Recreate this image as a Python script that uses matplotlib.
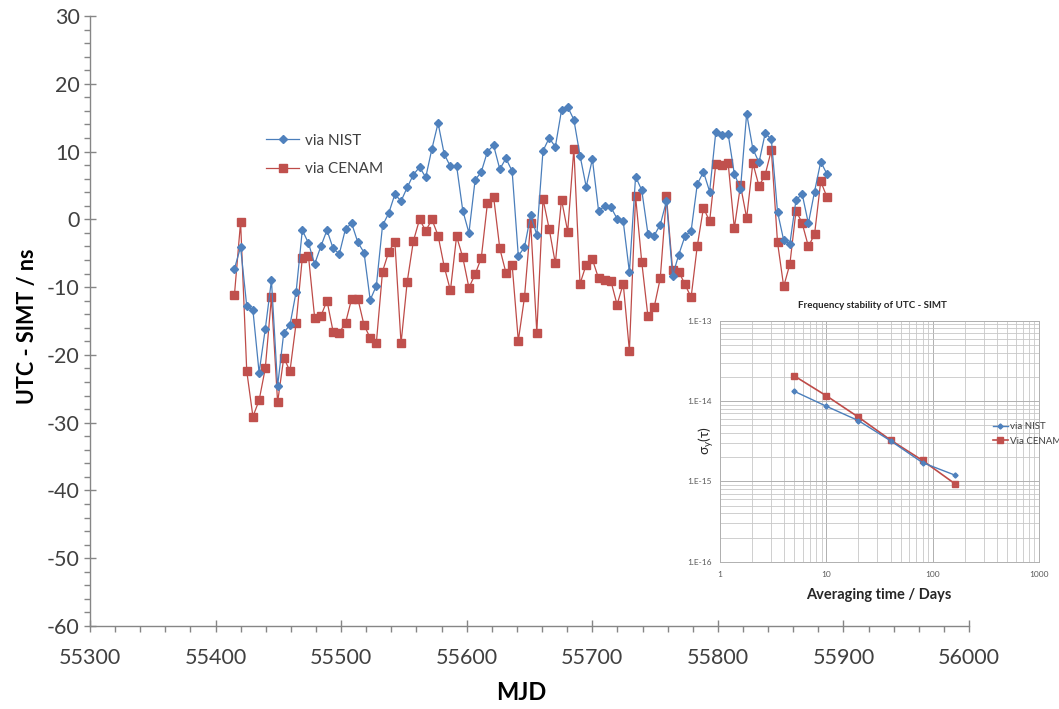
import numpy as np
import matplotlib
matplotlib.use("Agg")
import matplotlib.pyplot as plt
from matplotlib.ticker import MultipleLocator, LogLocator, FuncFormatter, NullFormatter

# UTC - SIMT time differences (ns), two transfer paths
nist = [-7.3, -4.1, -12.8, -13.4, -22.6, -16.2, -9.0, -24.6, -16.7, -15.6, -10.7, -1.6,
        -3.5, -6.6, -4.0, -1.6, -4.3, -5.1, -1.4, -0.6, -3.4, -4.9, -11.9, -9.8,
        -0.9, 0.9, 3.7, 2.7, 4.7, 6.6, 7.7, 6.2, 10.4, 14.2, 9.6, 7.8, 7.9, 1.3,
        -2.0, 5.8, 7.0, 10.0, 10.9, 7.4, 9.0, 7.1, -5.4, -4.1, 0.6,
        -2.3, 10.1, 12.0, 10.7, 16.1, 16.6, 14.7, 9.4, 4.8, 8.9, 1.3, 1.9, 1.8,
        0.1, -0.3, -7.8, 6.3, 4.3, -2.1, -2.4, -0.8, 2.7, -8.3, -5.2, -2.5,
        -1.7, 5.2, 7.0, 4.1, 12.9, 12.5, 12.6, 6.7, 4.5, 15.6, 10.4, 8.4, 12.7,
        11.8, 1.1, -3.1, -3.6, 2.9, 3.7, -0.6, 4.1, 8.5, 6.7]
cenam = [-11.2, -0.4, -22.4, -29.1, -26.7, -22.0, -11.5, -27.0, -20.4, -22.4, -15.3, -5.7,
         -5.4, -14.5, -14.3, -12.0, -16.6, -16.7, -15.3, -11.7, -11.7, -15.6, -17.5, -18.2,
         -7.7, -4.8, -3.3, -18.3, -9.2, -3.2, 0.0, -1.7, 0.0, -2.4, -7.0, -10.5, -2.5,
         -5.6, -10.1, -8.1, -5.7, 2.4, 3.3, -4.3, -7.9, -6.7, -17.9, -11.5, -0.5,
         -16.7, 3.0, -1.4, -6.5, 2.9, -1.8, 10.4, -9.5, -6.7, -5.9, -8.7, -9.0, -9.1,
         -12.6, -9.5, -19.4, 3.4, -6.3, -14.3, -13.0, -8.7, 3.4, -7.5, -7.7, -9.6,
         -11.5, -3.9, 1.7, -0.3, 8.2, 8.0, 8.3, -1.3, 5.0, 0.2, 8.3, 4.9, 6.6,
         10.2, -3.4, -9.9, -6.6, 1.3, -0.6, -4.0, -2.2, 5.6, 3.3]
mjd_start = 55415.0
mjd_step = 4.915
mjd = mjd_start + mjd_step * np.arange(len(nist))

# Allan deviation of the two links
tau_days = [5, 10, 20, 40, 80, 160]
adev_nist = [1.32e-14, 8.6e-15, 5.7e-15, 3.2e-15, 1.71e-15, 1.2e-15]
adev_cenam = [2.05e-14, 1.16e-14, 6.3e-15, 3.27e-15, 1.82e-15, 9.4e-16]

BLUE_L, BLUE_M = "#4A7EBB", "#4F81BD"
RED_L, RED_M = "#BE4B48", "#C0504D"
TXT = "#404040"
AXC = "#868686"

plt.rcParams["font.family"] = ["Lato", "DejaVu Sans"]
plt.rcParams["axes.unicode_minus"] = False

W, H = 1059, 709
fig = plt.figure(figsize=(W / 100, H / 100), dpi=100)

def fx(px):
    return px / W

def fy(py):
    return 1 - py / H

ax = fig.add_axes([fx(90), fy(626), fx(969) - fx(90), fy(16) - fy(626)])
ax.plot(mjd, nist, color=BLUE_L, lw=0.9, marker="D", ms=4.2, mfc=BLUE_M, mec=BLUE_M,
        label="via NIST", zorder=3)
ax.plot(mjd, cenam, color=RED_L, lw=0.9, marker="s", ms=5.2, mfc=RED_M, mec=RED_M,
        label="via CENAM", zorder=2)
ax.set_xlim(55300, 56000)
ax.set_ylim(-60, 30)
for s in ("top", "right"):
    ax.spines[s].set_visible(False)
for s in ("left", "bottom"):
    ax.spines[s].set_color(AXC)
    ax.spines[s].set_linewidth(1.0)
ax.xaxis.set_major_locator(MultipleLocator(100))
ax.xaxis.set_minor_locator(MultipleLocator(20))
ax.yaxis.set_major_locator(MultipleLocator(10))
ax.yaxis.set_minor_locator(MultipleLocator(2))
ax.tick_params(which="major", direction="inout", length=9, width=1.0, color=AXC,
               labelsize=15.5, labelcolor=TXT)
ax.tick_params(which="minor", direction="out", length=4.5, width=1.0, color=AXC)
ax.tick_params(axis="x", which="major", pad=11)
ax.tick_params(axis="y", which="major", pad=3)
ax.xaxis.set_major_formatter(FuncFormatter(lambda v, p: f"{int(round(v))}"))

fig.text(fx(28), fy(326), "UTC - SIMT / ns", rotation=90, ha="center", va="center",
         fontsize=15.5, fontweight="bold", color="black")
fig.text(fx(521), fy(692), "MJD", ha="center", va="center",
         fontsize=17, fontweight="bold", color="black")

ax.legend(loc="upper left", bbox_to_anchor=(fx(252), fy(120)), bbox_transform=fig.transFigure,
          frameon=False, fontsize=11, handlelength=2.2, handletextpad=0.4, labelspacing=0.95,
          labelcolor=TXT)

# Inset: frequency stability
ax2 = fig.add_axes([fx(720), fy(561.7), fx(1039.3) - fx(720), fy(320.7) - fy(561.7)])
ax2.set_facecolor("white")
ax2.loglog(tau_days, adev_nist, color=BLUE_L, lw=1.0, marker="D", ms=2.6, mfc=BLUE_M,
           mec=BLUE_M, label="via NIST", zorder=3)
ax2.loglog(tau_days, adev_cenam, color=RED_L, lw=1.2, marker="s", ms=4.0, mfc=RED_M,
           mec=RED_M, label="Via CENAM", zorder=2)
ax2.set_xlim(1, 1000)
ax2.set_ylim(1e-16, 1e-13)
ax2.xaxis.set_major_locator(LogLocator(base=10, numticks=10))
ax2.xaxis.set_minor_locator(LogLocator(base=10, subs=np.arange(2, 10), numticks=20))
ax2.yaxis.set_major_locator(LogLocator(base=10, numticks=10))
ax2.yaxis.set_minor_locator(LogLocator(base=10, subs=np.arange(2, 10), numticks=20))
ax2.xaxis.set_minor_formatter(NullFormatter())
ax2.yaxis.set_minor_formatter(NullFormatter())
ax2.xaxis.set_major_formatter(FuncFormatter(lambda v, p: f"{int(round(v))}"))
ax2.yaxis.set_major_formatter(FuncFormatter(lambda v, p: f"1.E{int(round(np.log10(v))):03d}"))
ax2.grid(which="major", color="#b0b0b0", lw=0.7)
ax2.grid(which="minor", color="#c8c8c8", lw=0.6)
ax2.tick_params(which="both", length=0, labelsize=6, labelcolor="#595959")
ax2.tick_params(axis="x", pad=7)
ax2.tick_params(axis="y", pad=6)
for s in ax2.spines.values():
    s.set_color("#b0b0b0")
    s.set_linewidth(0.7)

fig.text(fx(872), fy(306), "Frequency stability of UTC - SIMT", ha="center", va="center",
         fontsize=7, fontweight="bold", color="#262626")
fig.text(fx(879), fy(595), "Averaging time / Days", ha="center", va="center",
         fontsize=10.5, fontweight="bold", color="#262626")
fig.text(fx(706), fy(440), r"$\mathregular{\sigma_y(\tau)}$", rotation=90, ha="center",
         va="center", fontsize=10, color="#262626")
ax2.legend(loc="upper left", bbox_to_anchor=(fx(993), fy(422)), bbox_transform=fig.transFigure,
           frameon=False, fontsize=7, handlelength=1.5, handletextpad=0.2,
           labelspacing=0.6, borderaxespad=0, borderpad=0, labelcolor="#404040")

fig.savefig("out.png", dpi=100)
